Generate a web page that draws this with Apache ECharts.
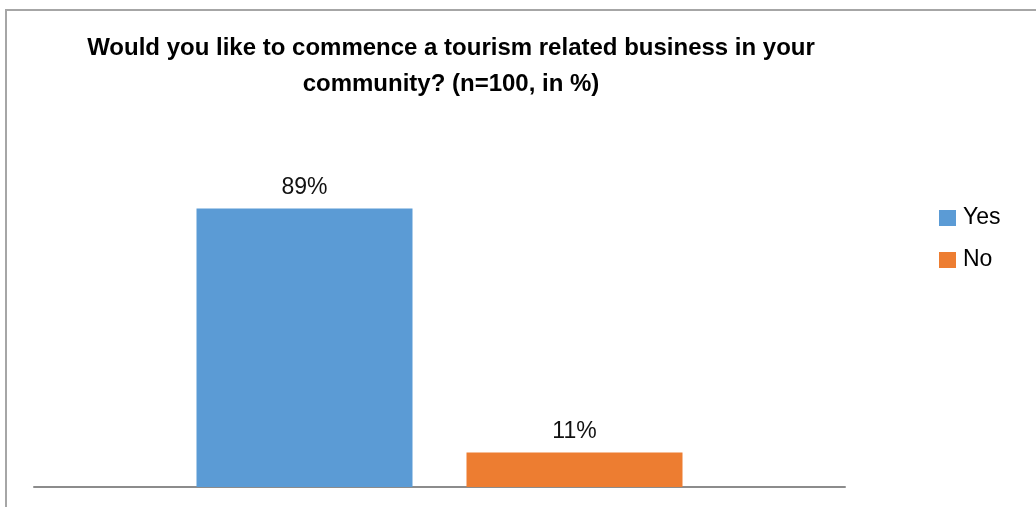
<!DOCTYPE html>
<html>
<head>
<meta charset="utf-8">
<script src="https://cdn.jsdelivr.net/npm/echarts@6/dist/echarts.min.js"></script>
<style>
  html, body { margin: 0; padding: 0; background: #fff; }
  #chart { width: 1036px; height: 507px; }
</style>
</head>
<body>
<div id="chart"></div>
<script>
// Survey answers (share of respondents, %)
const categories = ['Community'];
const seriesNames = ['Yes', 'No'];
const yesValues = [89];
const noValues = [11];
const colors = ['#5b9bd5', '#ed7d31'];

const FONT = '"Liberation Sans", Arial, sans-serif';

const chart = echarts.init(document.getElementById('chart'));

const labelStyle = {
  show: true,
  position: 'top',
  distance: 9,
  formatter: '{c}%',
  fontFamily: FONT,
  fontSize: 23,
  color: '#111'
};

chart.setOption({
  animation: false,
  title: {
    text: 'Would you like to commence a tourism related business in your\ncommunity? (n=100, in %)',
    left: 446,
    top: 25,
    textAlign: 'center',
    textStyle: {
      fontFamily: FONT,
      fontWeight: 'bold',
      fontSize: 24,
      lineHeight: 36,
      color: '#000',
      align: 'center'
    }
  },
  legend: {
    orient: 'vertical',
    left: 939,
    top: 206,
    padding: 0,
    icon: 'rect',
    itemWidth: 17,
    itemHeight: 16,
    itemGap: 18,
    data: seriesNames,
    textStyle: {
      fontFamily: FONT,
      fontSize: 23,
      lineHeight: 24,
      color: '#000',
      padding: [0, 0, 0, 2]
    }
  },
  grid: {
    left: 34,
    right: 191,
    top: 174,
    bottom: 20,
    containLabel: false
  },
  xAxis: {
    type: 'category',
    data: categories,
    axisLine: { show: true, lineStyle: { color: '#8c8c8c', width: 2 } },
    axisTick: { show: false },
    axisLabel: { show: false },
    splitLine: { show: false }
  },
  yAxis: {
    type: 'value',
    min: 0,
    max: 100,
    show: false,
    splitLine: { show: false }
  },
  series: [
    {
      name: seriesNames[0],
      type: 'bar',
      data: yesValues,
      barWidth: 216,
      barGap: '25%',
      itemStyle: { color: colors[0] },
      label: labelStyle
    },
    {
      name: seriesNames[1],
      type: 'bar',
      data: noValues,
      barWidth: 216,
      barGap: '25%',
      itemStyle: { color: colors[1] },
      label: labelStyle
    }
  ],
  graphic: [
    {
      type: 'rect',
      silent: true,
      z: -1,
      shape: { x: 6, y: 10, width: 1040, height: 510 },
      style: { fill: 'none', stroke: '#a6a6a6', lineWidth: 2 }
    }
  ]
});
</script>
</body>
</html>
